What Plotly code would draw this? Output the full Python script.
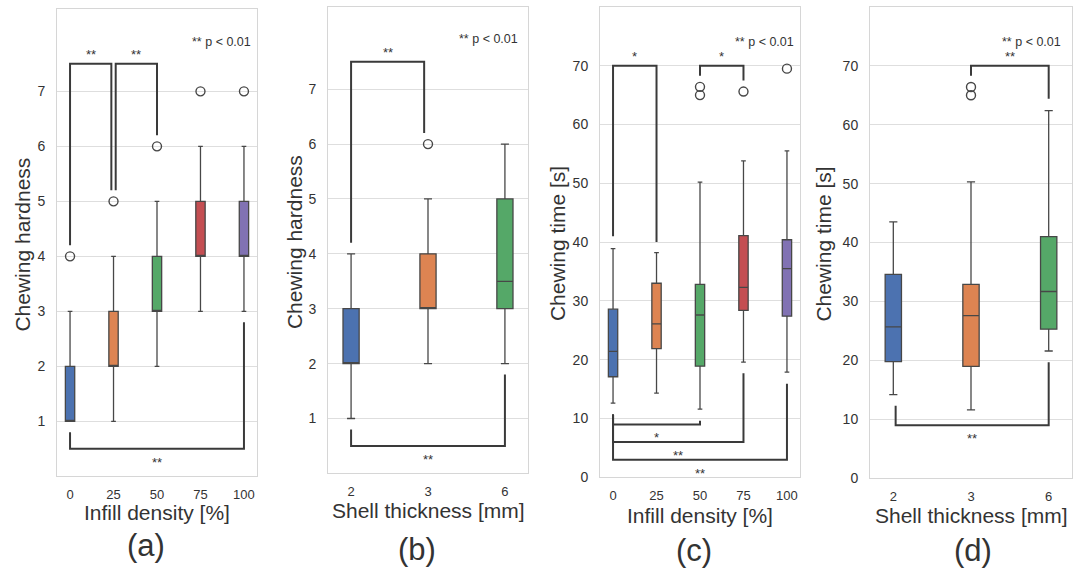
import plotly.graph_objects as go

W, H = 1073, 578

# ---------------- data ----------------
infill_labels = ["0", "25", "50", "75", "100"]
shell_labels = ["2", "3", "6"]

# (a) chewing hardness vs infill density
hard_infill_q1 = [1, 2, 3, 4, 4]
hard_infill_median = [1, 2, 3, 4, 4]
hard_infill_q3 = [2, 3, 4, 5, 5]
hard_infill_low = [1, 1, 2, 3, 3]
hard_infill_high = [3, 4, 5, 6, 6]
hard_infill_outliers = [[4], [5], [6], [7], [7]]

# (b) chewing hardness vs shell thickness
hard_shell_q1 = [2, 3, 3]
hard_shell_median = [2, 3, 3.5]
hard_shell_q3 = [3, 4, 5]
hard_shell_low = [1, 2, 2]
hard_shell_high = [4, 5, 6]
hard_shell_outliers = [[], [6], []]

# (c) chewing time vs infill density
time_infill_q1 = [17.1, 21.9, 18.9, 28.4, 27.4]
time_infill_median = [21.4, 26.1, 27.6, 32.3, 35.5]
time_infill_q3 = [28.6, 33.0, 32.8, 41.1, 40.4]
time_infill_low = [12.6, 14.3, 11.6, 19.6, 17.9]
time_infill_high = [38.9, 38.2, 50.2, 53.8, 55.5]
time_infill_outliers = [[], [], [65.0, 66.4], [65.6], [69.5]]

# (d) chewing time vs shell thickness
time_shell_q1 = [19.8, 19.0, 25.3]
time_shell_median = [25.7, 27.6, 31.7]
time_shell_q3 = [34.6, 32.9, 41.0]
time_shell_low = [14.2, 11.6, 21.6]
time_shell_high = [43.5, 50.3, 62.4]
time_shell_outliers = [[], [65.0, 66.4], []]

# significance brackets: (x_start, x_end, bar_y, left_leg_end, right_leg_end, label)
brackets_a_top = [(0, 0.95, 7.5, 4.2, 5.2, "**"), (1.05, 2, 7.5, 5.2, 6.2, "**")]
brackets_a_bottom = [(0, 4, 0.5, 0.8, 2.8, "**")]
brackets_b_top = [(0, 0.95, 7.5, 4.2, 6.2, "**")]
brackets_b_bottom = [(0, 2, 0.5, 0.8, 1.8, "**")]
brackets_c_top = [(0, 1, 70, 41.0, 40.0, "*"), (2, 3, 70, 68.3, 67.5, "*")]
brackets_c_bottom = [(0, 2, 9, 10.7, 9.6, "*"), (0, 3, 6, 10.7, 17.7, "**"),
                     (0, 4, 3, 10.7, 15.9, "**")]
brackets_d_top = [(1, 2, 70, 68.3, 64.4, "**")]
brackets_d_bottom = [(0.03, 2, 9, 12.3, 19.7, "**")]

palette = ["#4c72b0", "#dd8452", "#55a868", "#c44e52", "#8172b3"]

FONT = "Liberation Sans, Arial, Helvetica, sans-serif"
TXT = "#333333"
EDGE = "#474747"
BRK = "#3a3a3a"


def px(x):
    return x / W


def py(y):
    return 1 - y / H


panels = [
    dict(letter="(a)", cats=infill_labels, q1=hard_infill_q1, med=hard_infill_median,
         q3=hard_infill_q3, lo=hard_infill_low, hi=hard_infill_high, out=hard_infill_outliers,
         top=brackets_a_top, bottom=brackets_a_bottom, box=(57, 257, 9, 483),
         yrange=[0, 8.5], yticks=[1, 2, 3, 4, 5, 6, 7], ytitle="Chewing hardness",
         xtitle="Infill density [%]", width=0.215, ytx=23, xty=520, lx=146, ly=553,
         pnote=(253, 43)),
    dict(letter="(b)", cats=shell_labels, q1=hard_shell_q1, med=hard_shell_median,
         q3=hard_shell_q3, lo=hard_shell_low, hi=hard_shell_high, out=hard_shell_outliers,
         top=brackets_b_top, bottom=brackets_b_bottom, box=(328, 528, 7, 480),
         yrange=[0, 8.5], yticks=[1, 2, 3, 4, 5, 6, 7], ytitle="Chewing hardness",
         xtitle="Shell thickness [mm]", width=0.21, ytx=294, xty=518, lx=417, ly=557,
         pnote=(520, 40)),
    dict(letter="(c)", cats=infill_labels, q1=time_infill_q1, med=time_infill_median,
         q3=time_infill_q3, lo=time_infill_low, hi=time_infill_high, out=time_infill_outliers,
         top=brackets_c_top, bottom=brackets_c_bottom, box=(600, 800, 7, 484),
         yrange=[0, 80], yticks=[0, 10, 20, 30, 40, 50, 60, 70], ytitle="Chewing time [s]",
         xtitle="Infill density [%]", width=0.215, ytx=557, xty=523, lx=694, ly=558,
         pnote=(796, 43)),
    dict(letter="(d)", cats=shell_labels, q1=time_shell_q1, med=time_shell_median,
         q3=time_shell_q3, lo=time_shell_low, hi=time_shell_high, out=time_shell_outliers,
         top=brackets_d_top, bottom=brackets_d_bottom, box=(870, 1072, 7, 485),
         yrange=[0, 80], yticks=[0, 10, 20, 30, 40, 50, 60, 70], ytitle="Chewing time [s]",
         xtitle="Shell thickness [mm]", width=0.21, ytx=824, xty=523, lx=973, ly=558,
         pnote=(1063, 43)),
]

fig = go.Figure()
layout = dict(
    width=W, height=H, margin=dict(l=0, r=0, t=0, b=0),
    paper_bgcolor="white", plot_bgcolor="white", showlegend=False,
    font=dict(family=FONT, color=TXT), boxmode="overlay",
)
annotations = []

for k, p in enumerate(panels):
    sfx = "" if k == 0 else str(k + 1)
    xa, ya = "x" + sfx, "y" + sfx
    x0, x1, y0, y1 = p["box"]
    n = len(p["cats"])
    layout["xaxis" + sfx] = dict(
        domain=[px(x0), px(x1)], anchor=ya, range=[-0.3, n - 1 + 0.3],
        tickvals=list(range(n)), ticktext=p["cats"], showgrid=False, zeroline=False,
        showline=True, mirror=True, linecolor="#d6d6d6", linewidth=1,
        ticks="outside", ticklen=6, tickcolor="rgba(0,0,0,0)",
        tickfont=dict(size=13, color=TXT, family=FONT),
    )
    layout["yaxis" + sfx] = dict(
        domain=[py(y1), py(y0)], anchor=xa, range=p["yrange"], tickvals=p["yticks"],
        showgrid=True, gridcolor="#dedede", gridwidth=1, zeroline=False,
        showline=True, mirror=True, linecolor="#d6d6d6", linewidth=1,
        ticks="outside", ticklen=8, tickcolor="rgba(0,0,0,0)",
        tickfont=dict(size=14, color=TXT, family=FONT),
    )
    for i in range(n):
        fig.add_trace(go.Box(
            x=[i], q1=[p["q1"][i]], median=[p["med"][i]], q3=[p["q3"][i]],
            lowerfence=[p["lo"][i]], upperfence=[p["hi"][i]],
            width=p["width"], whiskerwidth=0.5, fillcolor=palette[i],
            line=dict(color=EDGE, width=1.3), boxpoints=False,
            xaxis=xa, yaxis=ya, showlegend=False, hoverinfo="skip",
        ))
        if p["out"][i]:
            fig.add_trace(go.Scatter(
                x=[i] * len(p["out"][i]), y=p["out"][i], mode="markers",
                marker=dict(symbol="circle-open", size=9, color=EDGE,
                            line=dict(width=1.4, color=EDGE)),
                xaxis=xa, yaxis=ya, showlegend=False, hoverinfo="skip",
            ))
    for group, above in ((p["top"], True), (p["bottom"], False)):
        for (bx0, bx1, by, l0, l1, lab) in group:
            fig.add_trace(go.Scatter(
                x=[bx0, bx0, bx1, bx1], y=[l0, by, by, l1], mode="lines",
                line=dict(color=BRK, width=2), xaxis=xa, yaxis=ya,
                showlegend=False, hoverinfo="skip",
            ))
            annotations.append(dict(
                x=(bx0 + bx1) / 2, y=by, xref=xa, yref=ya, text=lab, showarrow=False,
                xanchor="center", yanchor="bottom" if above else "top",
                yshift=0 if above else -4,
                font=dict(size=13, color=TXT, family=FONT),
            ))
    # p-value note
    annotations.append(dict(
        x=px(p["pnote"][0]), y=py(p["pnote"][1]), xref="paper", yref="paper",
        text="** p < 0.01", showarrow=False, xanchor="right", yanchor="middle",
        font=dict(size=12.5, color=TXT, family=FONT),
    ))
    # axis titles
    annotations.append(dict(
        x=px(p["ytx"]), y=py((y0 + y1) / 2 + 2), xref="paper", yref="paper",
        text=p["ytitle"], textangle=-90, showarrow=False, xanchor="center",
        yanchor="middle", font=dict(size=21, color=TXT, family=FONT),
    ))
    annotations.append(dict(
        x=px((x0 + x1) / 2), y=py(p["xty"]), xref="paper", yref="paper",
        text=p["xtitle"], showarrow=False, xanchor="center", yanchor="middle",
        font=dict(size=21, color=TXT, family=FONT),
    ))
    annotations.append(dict(
        x=px(p["lx"]), y=py(p["ly"]), xref="paper", yref="paper",
        text=p["letter"], showarrow=False, xanchor="center", yanchor="middle",
        font=dict(size=31, color=TXT, family=FONT, weight=300),
    ))

layout["annotations"] = annotations
fig.update_layout(**layout)
fig.write_html("out.html")
